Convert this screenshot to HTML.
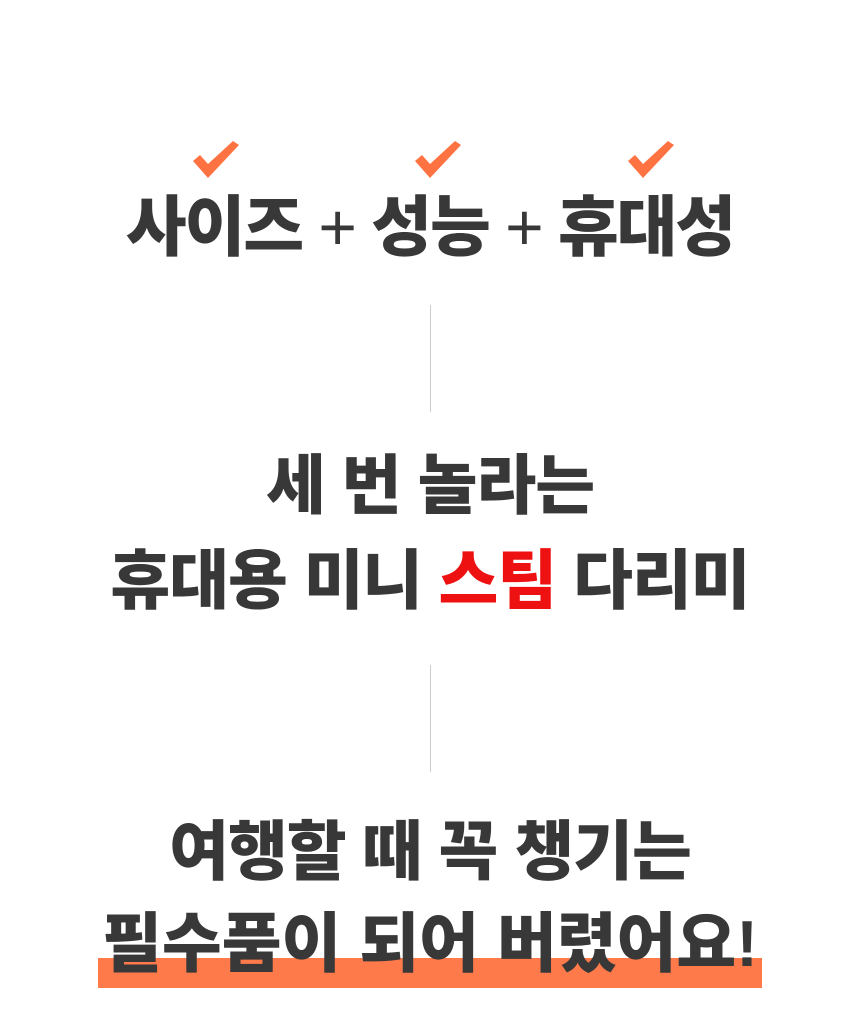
<!DOCTYPE html>
<html><head><meta charset="utf-8"><style>
body{margin:0;width:860px;height:1033px;background:#fff;position:relative;overflow:hidden;font-family:"Liberation Sans","Noto Sans CJK KR",sans-serif;}
.t{position:absolute;left:0;width:860px;text-align:center;color:#383838;font-weight:900;line-height:1;white-space:nowrap;letter-spacing:-1px;}
.v{position:absolute;left:430px;width:1px;background:#ccc;}
</style></head><body>
<svg style="position:absolute;left:0;top:0" width="860" height="200">
<g fill="#ff7343">
<polygon points="193,161 200,155 208,164 233,141 239,145 208,178"/>
<polygon points="415,161 422,155 430,164 455,141 461,145 430,178"/>
<polygon points="628,161 635,155 643,164 668,141 674,145 643,178"/>
</g></svg>
<div class="t" style="top:194px;font-size:66px;letter-spacing:-2px;">사이즈 <span style="font-weight:400">+</span> 성능 <span style="font-weight:400">+</span> 휴대성</div>
<div class="v" style="top:305px;height:107px"></div>
<div class="t" style="top:453px;font-size:65px;">세 번 놀라는</div>
<div class="t" style="top:548px;font-size:65px;">휴대용 미니 <span style="color:#ee1111">스팀</span> 다리미</div>
<div class="v" style="top:665px;height:107px"></div>
<div style="position:absolute;left:98px;top:958px;width:664px;height:30px;background:#ff7a4a"></div>
<div class="t" style="top:819px;font-size:65px;">여행할 때 꼭 챙기는</div>
<div class="t" style="top:911px;font-size:65px;letter-spacing:0px;">필수품이 되어 버렸어요!</div>
</body></html>
